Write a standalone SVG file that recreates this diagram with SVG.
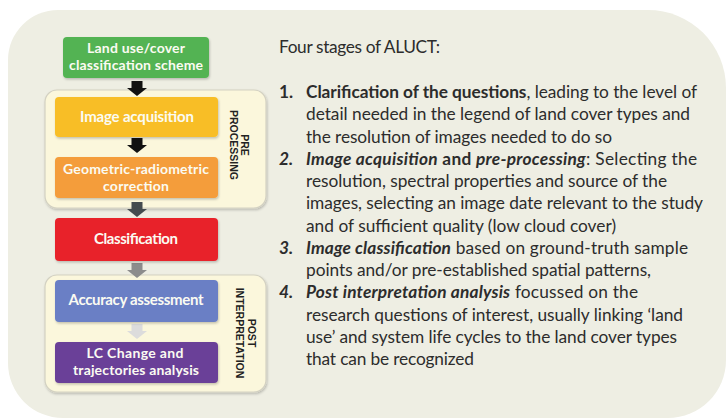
<svg xmlns="http://www.w3.org/2000/svg" width="726" height="419" viewBox="0 0 726 419">
  <defs>
    <style>
      .bg { fill: #eeeee3; }
      .panel { fill: #fbf7dc; stroke: #d3d1c2; stroke-width: 1.2; }
      .box rect { stroke: none; }
      .box text { font-family: Lato, "Open Sans", sans-serif; font-weight: 700; font-size: 14px; fill: #fbfbf2; text-anchor: middle; }
      .box text.one { font-size: 15px; }
      .side { font-family: "Liberation Sans", Arial, sans-serif; font-weight: 700; font-size: 10.5px; fill: #222; text-anchor: middle; }
      .body { font-family: Lato, "Open Sans", sans-serif; font-size: 17.3px; fill: #2c2c2c; }
      .b { font-weight: 700; }
      .bi { font-weight: 700; font-style: italic; }
    </style>
    <filter id="shadow" x="-10%" y="-10%" width="120%" height="130%">
      <feDropShadow dx="0.8" dy="1.5" stdDeviation="1.2" flood-color="#000" flood-opacity="0.22"/>
    </filter>
    <!-- block arrow pointing down, origin at top centre -->
    <path id="arrow" d="M-5.5,0 h11 v7 h4.5 l-10,8 l-10,-8 h4.5 z"/>
  </defs>

  <!-- backdrop card -->
  <path class="bg" d="M58,10 H648 A78,78 0 0 1 726,88 V360 A58,58 0 0 1 668,418 H63 A55,55 0 0 1 8,363 V60 A50,50 0 0 1 58,10 Z"/>

  <!-- stage panels -->
  <g id="panel-pre">
    <rect class="panel" x="45" y="90" width="221" height="118" rx="12" filter="url(#shadow)"/>
    <text class="side" transform="translate(241,145) rotate(90)">PRE</text>
    <text class="side" transform="translate(230,145) rotate(90)">PROCESSING</text>
  </g>
  <g id="panel-post">
    <rect class="panel" x="45" y="275" width="221" height="117" rx="12" filter="url(#shadow)"/>
    <text class="side" transform="translate(248,333) rotate(90)">POST</text>
    <text class="side" transform="translate(236,333) rotate(90)">INTERPRETATION</text>
  </g>

  <!-- connectors -->
  <g id="connectors">
    <use href="#arrow" transform="translate(137,81)" fill="#111111"/>
    <use href="#arrow" transform="translate(137,138)" fill="#111111"/>
    <use href="#arrow" transform="translate(137,202)" fill="#444b4f"/>
    <use href="#arrow" transform="translate(137,263)" fill="#8c8c8c"/>
    <use href="#arrow" transform="translate(137,324)" fill="#dcdcdc"/>
  </g>

  <!-- process steps -->
  <g id="scheme" class="box">
    <rect x="63" y="37" width="146" height="41" rx="4" fill="#52b352" filter="url(#shadow)"/>
    <text x="136" y="53" textLength="98">Land use/cover</text>
    <text x="136" y="70" textLength="134">classification scheme</text>
  </g>
  <g id="acquisition" class="box">
    <rect x="55" y="97" width="163" height="40" rx="4" fill="#f8be28" filter="url(#shadow)"/>
    <text class="one" x="137" y="122" textLength="114">Image acquisition</text>
  </g>
  <g id="correction" class="box">
    <rect x="55" y="157" width="163" height="41" rx="4" fill="#f49d3a" filter="url(#shadow)"/>
    <text x="136" y="174" textLength="146">Geometric-radiometric</text>
    <text x="136" y="191" textLength="66">correction</text>
  </g>
  <g id="classification" class="box">
    <rect x="55" y="218" width="163" height="43" rx="4" fill="#e8242b" filter="url(#shadow)"/>
    <text class="one" x="136" y="244" textLength="84">Classification</text>
  </g>
  <g id="accuracy" class="box">
    <rect x="55" y="280" width="163" height="42" rx="4" fill="#6a7fc5" filter="url(#shadow)"/>
    <text class="one" x="136" y="305" textLength="135">Accuracy assessment</text>
  </g>
  <g id="change" class="box">
    <rect x="55" y="342" width="163" height="41" rx="4" fill="#6a3f98" filter="url(#shadow)"/>
    <text x="135" y="358" textLength="97">LC Change and</text>
    <text x="136" y="375" textLength="126">trajectories analysis</text>
  </g>

  <!-- description of the stages -->
  <g id="stages" class="body">
    <text x="279" y="53" textLength="161">Four stages of ALUCT:</text>

    <text x="279" y="98" class="b">1.</text>
    <text x="306" y="98" textLength="391"><tspan class="b">Clarification of the questions</tspan>, leading to the level of</text>
    <text x="306" y="120.3" textLength="384">detail needed in the legend of land cover types and</text>
    <text x="306" y="142.5" textLength="306">the resolution of images needed to do so</text>

    <text x="279" y="164.8" class="bi">2.</text>
    <text x="306" y="164.8" textLength="391"><tspan class="bi">Image acquisition</tspan><tspan class="b"> and </tspan><tspan class="bi">pre-processing</tspan>: Selecting the</text>
    <text x="306" y="187" textLength="361">resolution, spectral properties and source of the</text>
    <text x="306" y="209.3" textLength="397">images, selecting an image date relevant to the study</text>
    <text x="306" y="231.5" textLength="310">and of sufficient quality (low cloud cover)</text>

    <text x="279" y="253.8" class="bi">3.</text>
    <text x="306" y="253.8" textLength="382"><tspan class="bi">Image classification</tspan> based on ground-truth sample</text>
    <text x="306" y="276" textLength="345">points and/or pre-established spatial patterns,</text>

    <text x="279" y="298.3" class="bi">4.</text>
    <text x="306" y="298.3" textLength="332"><tspan class="bi">Post interpretation analysis</tspan> focussed on the</text>
    <text x="306" y="320.5" textLength="377">research questions of interest, usually linking ‘land</text>
    <text x="306" y="342.8" textLength="371">use’ and system life cycles to the land cover types</text>
    <text x="306" y="365" textLength="168">that can be recognized</text>
  </g>
</svg>
